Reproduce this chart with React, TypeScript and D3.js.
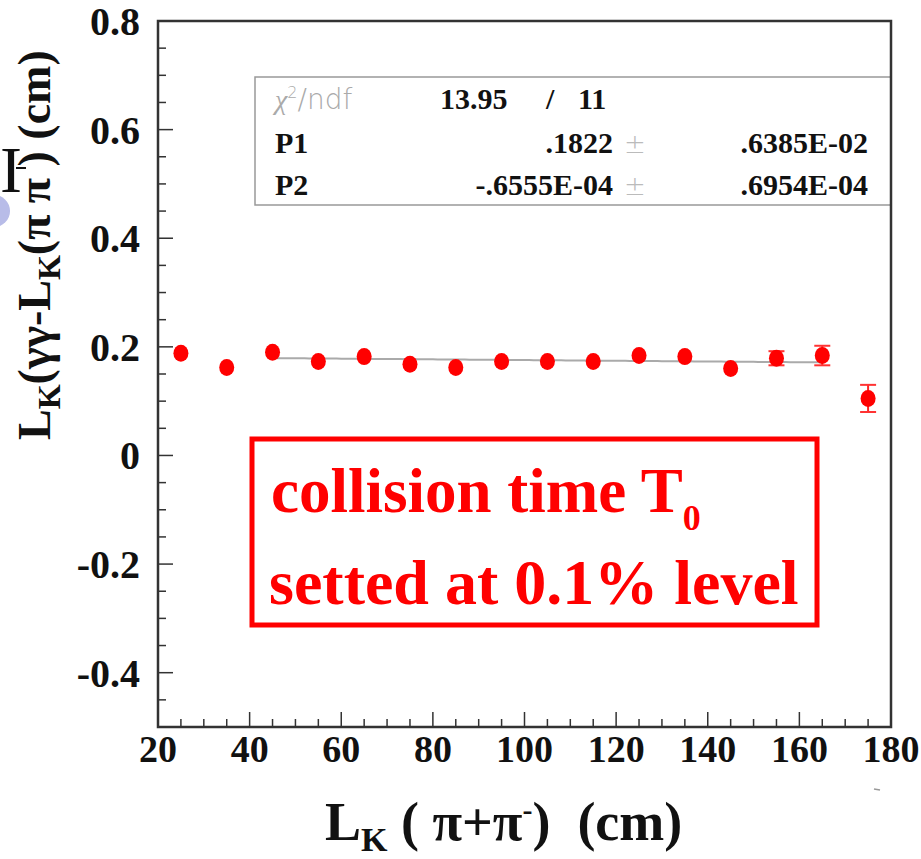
import React from "react";
import * as d3 from "d3";

// ---- data ----
const xCenters = [25, 35, 45, 55, 65, 75, 85, 95, 105, 115, 125, 135, 145, 155, 165, 175];
const yValues = [0.188, 0.162, 0.19, 0.173, 0.182, 0.168, 0.162, 0.173, 0.173, 0.173, 0.184, 0.182, 0.16, 0.179, 0.184, 0.105];
const yErrors = [0.006, 0.006, 0.006, 0.006, 0.006, 0.006, 0.006, 0.006, 0.006, 0.006, 0.006, 0.006, 0.008, 0.013, 0.018, 0.025];
const xTickLabels = [20, 40, 60, 80, 100, 120, 140, 160, 180];
const yTickValues = [-0.4, -0.2, 0, 0.2, 0.4, 0.6, 0.8];
const yTickLabels = ["-0.4", "-0.2", "0", "0.2", "0.4", "0.6", "0.8"];
const fitP1 = 0.1822;
const fitP2 = -0.6555e-4;
const fitRange = [45, 165];
const statRows = [
  { name: "P1", value: ".1822", err: ".6385E-02" },
  { name: "P2", value: "-.6555E-04", err: ".6954E-04" },
];

const W = 921;
const H = 859;
const L = 158, R = 891, T = 21, B = 727;

export default function App() {
  const x = d3.scaleLinear().domain([20, 180]).range([L, R]);
  const y = d3.scaleLinear().domain([-0.5, 0.8]).range([B, T]);
  const serif = "'Liberation Serif', 'Times New Roman', serif";
  const axisColor = "#333";

  const xMinor = d3.range(20, 180.01, 5);
  const yMinor = d3.range(-0.5, 0.8001, 0.05);

  const fitXs = d3.range(fitRange[0], fitRange[1] + 0.01, 1);
  const fitLine = d3
    .line<number>()
    .x((d) => x(d))
    .y((d) => y(fitP1 + fitP2 * d));

  return (
    <svg
      width={W}
      height={H}
      style={{ position: "absolute", left: 0, top: 0, background: "#fff" }}
    >
      {/* stats box */}
      <rect x={255} y={77} width={R - 255} height={128} fill="none" stroke="#999" strokeWidth={1.5} />
      <text x={275} y={109} fontFamily="'DejaVu Sans', sans-serif" fontSize={28} fill="#aaa" fontWeight={200}>
        <tspan fontFamily={serif} fontStyle="italic">χ</tspan>
        <tspan dy={-11} fontSize={16}>2</tspan>
        <tspan dy={11}>/ndf</tspan>
      </text>
      <text x={440} y={109} fontFamily={serif} fontWeight="bold" fontSize={30} fill="#111">13.95</text>
      <text x={546} y={109} fontFamily={serif} fontWeight="bold" fontSize={30} fill="#111">/</text>
      <text x={578} y={109} fontFamily={serif} fontWeight="bold" fontSize={30} fill="#111">11</text>
      {statRows.map((r, i) => (
        <g key={r.name}>
          <text x={275} y={153 + i * 42} fontFamily={serif} fontWeight="bold" fontSize={30} fill="#111">{r.name}</text>
          <text x={613} y={153 + i * 42} textAnchor="end" fontFamily={serif} fontWeight="bold" fontSize={30} fill="#111">{r.value}</text>
          <text x={624} y={153 + i * 42} fontFamily="'DejaVu Sans', sans-serif" fontWeight={200} fontSize={26} fill="#bbb">±</text>
          <text x={868} y={153 + i * 42} textAnchor="end" fontFamily={serif} fontWeight="bold" fontSize={30} fill="#111">{r.err}</text>
        </g>
      ))}

      {/* frame */}
      <rect x={L} y={T} width={R - L} height={B - T} fill="none" stroke={axisColor} strokeWidth={2.5} />

      {/* x ticks */}
      {xMinor.map((v) => {
        const major = Math.abs(v % 20) < 0.01;
        return <line key={"xt" + v} x1={x(v)} x2={x(v)} y1={B} y2={B - (major ? 15 : 8)} stroke={axisColor} strokeWidth={1.5} />;
      })}
      {/* y ticks */}
      {yMinor.map((v) => {
        const major = Math.abs(Math.round(v * 100) % 20) < 0.5;
        return <line key={"yt" + v.toFixed(2)} x1={L} x2={L + (major ? 15 : 8)} y1={y(v)} y2={y(v)} stroke={axisColor} strokeWidth={1.5} />;
      })}

      {/* x tick labels */}
      {xTickLabels.map((v) => (
        <text key={"xl" + v} x={x(v)} y={762} textAnchor="middle" fontFamily={serif} fontWeight="bold" fontSize={38} fill="#111">
          {v}
        </text>
      ))}
      {/* y tick labels */}
      {yTickValues.map((v, i) => (
        <text key={"yl" + v} x={140} y={y(v)} dy="0.35em" textAnchor="end" fontFamily={serif} fontWeight="bold" fontSize={40} fill="#111">
          {yTickLabels[i]}
        </text>
      ))}

      {/* fit line */}
      <path d={fitLine(fitXs) || ""} fill="none" stroke="#aaa" strokeWidth={2} />

      {/* data points */}
      {xCenters.map((xc, i) => (
        <g key={"p" + xc}>
          <line x1={x(xc)} x2={x(xc)} y1={y(yValues[i] - yErrors[i])} y2={y(yValues[i] + yErrors[i])} stroke="#f22" strokeWidth={2} />
          {yErrors[i] > 0.01 && (
            <>
              <line x1={x(xc) - 8} x2={x(xc) + 8} y1={y(yValues[i] - yErrors[i])} y2={y(yValues[i] - yErrors[i])} stroke="#f33" strokeWidth={2} />
              <line x1={x(xc) - 8} x2={x(xc) + 8} y1={y(yValues[i] + yErrors[i])} y2={y(yValues[i] + yErrors[i])} stroke="#f33" strokeWidth={2} />
            </>
          )}
          <ellipse cx={x(xc)} cy={y(yValues[i])} rx={7.5} ry={8.5} fill="#ff0000" />
        </g>
      ))}

      {/* red annotation box */}
      <rect x={252} y={439} width={565} height={186} fill="none" stroke="#ff0000" strokeWidth={5} />
      <text x={271} y={512} fontFamily={serif} fontWeight="bold" fontSize={63} fill="#ff0000">
        collision time T<tspan dy={18} fontSize={36}>0</tspan>
      </text>
      <text x={269} y={604} fontFamily={serif} fontWeight="bold" fontSize={64} fill="#ff0000">
        setted at 0.1% level
      </text>

      {/* x axis title */}
      <text x={325} y={840} fontFamily={serif} fontWeight="bold" fontSize={54} fill="#111">
        L<tspan dy={11} fontSize={34}>K</tspan>
        <tspan dy={-11}>{"\u00a0( π+π"}</tspan>
        <tspan dy={-20} fontSize={30}>-</tspan>
        <tspan dy={20}>{")\u00a0\u00a0(cm)"}</tspan>
      </text>

      {/* y axis title */}
      <text
        transform="translate(50,440) rotate(-90)"
        x={0}
        y={0}
        fontFamily={serif}
        fontWeight="bold"
        fontSize={46}
        fill="#111"
      >
        L<tspan dy={10} fontSize={32}>K</tspan>
        <tspan dy={-10}>(γγ-L</tspan>
        <tspan dy={10} fontSize={32}>K</tspan>
        <tspan dy={-10}>{"(π π\u00a0) (cm)"}</tspan>
      </text>

      {/* artifacts at left edge */}
      <circle cx={-6} cy={211} r={16} fill="#b8bce8" />
      <text x={0} y={192} fontFamily={serif} fontSize={66} fill="#111">I</text>
      <line x1={16} x2={26} y1={168} y2={168} stroke="#111" strokeWidth={2} />
      <line x1={874} x2={880} y1={789} y2={790} stroke="#999" strokeWidth={1.5} />
    </svg>
  );
}
